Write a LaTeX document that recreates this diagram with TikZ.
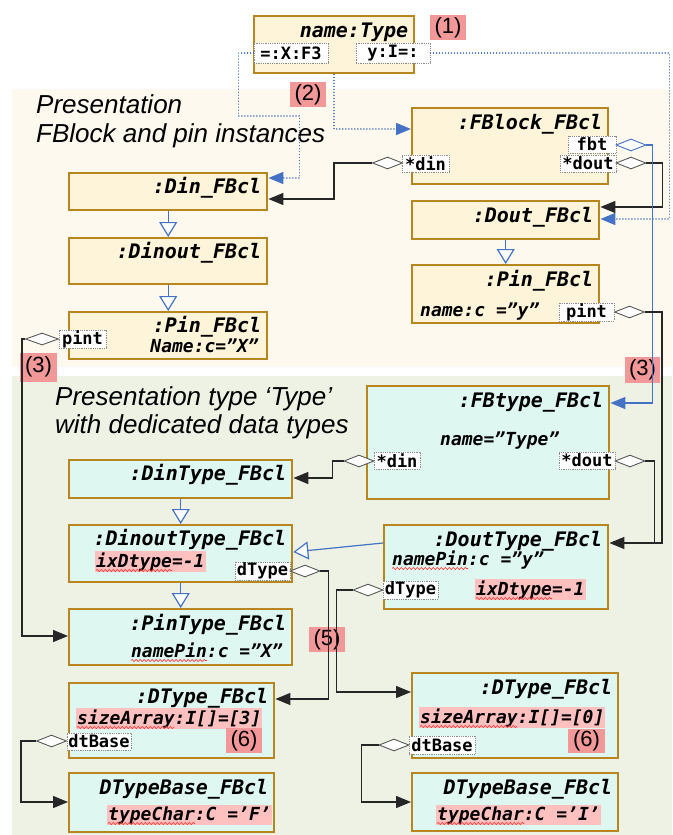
\documentclass[tikz,border=0pt]{standalone}
\usepackage{fontspec}
\setmainfont{Liberation Sans}
\newfontfamily\cmono{DejaVu Sans Mono}[BoldFont={DejaVu Sans Mono Bold},ItalicFont={DejaVu Sans Mono Oblique},BoldItalicFont={DejaVu Sans Mono Bold Oblique}]
\usetikzlibrary{arrows.meta,shapes.geometric,decorations.pathmorphing,calc}
\definecolor{bgtop}{RGB}{253,249,238}
\definecolor{bgbot}{RGB}{238,242,229}
\definecolor{boxtop}{RGB}{254,244,218}
\definecolor{boxbot}{RGB}{222,248,241}
\definecolor{boxedge}{RGB}{184,134,30}
\definecolor{hl}{RGB}{255,192,192}
\definecolor{numred}{RGB}{243,152,152}
\definecolor{umlblue}{RGB}{68,114,196}
\definecolor{pingray}{RGB}{140,140,140}
\tikzset{
 clsbox/.style={draw=boxedge, line width=2.4pt, rectangle, inner sep=0pt, anchor=north west},
 topbox/.style={clsbox, fill=boxtop},
 botbox/.style={clsbox, fill=boxbot},
 clstitle/.style={anchor=base east, inner sep=0pt, font=\cmono\bfseries\itshape\fontsize{20}{24}\selectfont},
 attrtxt/.style={inner sep=0pt, font=\cmono\bfseries\itshape\fontsize{18}{22}\selectfont},
 hlattr/.style={attrtxt, fill=hl, inner xsep=1pt, inner ysep=1.5pt},
 pinlbl/.style={draw=pingray, densely dotted, line width=0.8pt, fill=white, inner sep=0pt, font=\cmono\bfseries\fontsize{17}{20}\selectfont},
 aggdia/.style={diamond, draw=black!65, fill=white, line width=0.9pt, minimum width=30pt, minimum height=12pt, inner sep=0pt},
 numlbl/.style={fill=numred, inner sep=0pt, font=\fontsize{22}{24}\selectfont},
 secttitle/.style={anchor=base west, inner sep=0pt, font=\itshape\fontsize{26}{30}\selectfont},
 connarrow/.style={draw=black!85, line width=1.4pt, -{Triangle[length=15pt,width=12pt]}},
 joinline/.style={draw=black!85, line width=1.4pt},
 bconn/.style={draw=umlblue, line width=1.4pt, -{Triangle[length=15pt,width=12pt]}},
 dconn/.style={draw=umlblue, line width=1.5pt, line cap=round, dash pattern=on 0.01pt off 3pt, -{Triangle[length=15pt,width=12pt]}},
 genarrow/.style={draw=umlblue, line width=1.2pt, -{Triangle[open, length=15pt, width=18pt, fill=white]}},
 squig/.style={draw=red!80, line width=0.6pt, decorate, decoration={snake, amplitude=1.1pt, segment length=4pt}},
}
\begin{document}
\begin{tikzpicture}[x=1pt,y=-1pt]
\useasboundingbox (0,0) rectangle (672,835);
\fill[white] (0,0) rectangle (672,835);
% backgrounds
\fill[bgtop] (12,89) rectangle (672,367);
\fill[bgbot] (12,376) rectangle (672,835);
% section titles
\node[secttitle] (s1a) at (36,113) {Presentation};
\node[secttitle] (s1b) at (36,142) {FBlock and pin instances};
\node[secttitle] (s2a) at (55,405) {Presentation type ‘Type’};
\node[secttitle] (s2b) at (55,433) {with dedicated data types};
% number labels under lines
\node[numlbl, minimum width=36pt, minimum height=25pt] (n1) at (448,27.5) {(1)};
\node[numlbl, minimum width=36pt, minimum height=25pt] (n2) at (308,94.5) {(2)};
\node[numlbl, minimum width=37pt, minimum height=29pt] (n3a) at (38.5,367) {(3)};
\node[numlbl, minimum width=35pt, minimum height=26pt] (n3b) at (642.5,370) {(3)};
\node[numlbl, minimum width=36pt, minimum height=25pt] (n5) at (327,639.5) {(5)};
% boxes
\node[topbox, minimum width=160pt, minimum height=57pt] (nt) at (253,15) {};
\node[topbox, minimum width=196pt, minimum height=76pt] (fb) at (411,107) {};
\node[topbox, minimum width=198pt, minimum height=37pt] (din) at (68,172) {};
\node[topbox, minimum width=198pt, minimum height=46pt] (dinout) at (68,237) {};
\node[topbox, minimum width=198pt, minimum height=47pt] (pinL) at (68,311) {};
\node[topbox, minimum width=187pt, minimum height=38pt] (dout) at (411,200) {};
\node[topbox, minimum width=187pt, minimum height=58pt] (pinR) at (411,264) {};
\node[botbox, minimum width=242pt, minimum height=113pt] (fbt) at (366,385) {};
\node[botbox, minimum width=223pt, minimum height=38pt] (dint) at (68,459) {};
\node[botbox, minimum width=223pt, minimum height=57pt] (dinoutt) at (68,524) {};
\node[botbox, minimum width=223pt, minimum height=56pt] (pint) at (68,608) {};
\node[botbox, minimum width=224pt, minimum height=84pt] (doutt) at (383,524) {};
\node[botbox, minimum width=205pt, minimum height=75pt] (dtL) at (68,682) {};
\node[botbox, minimum width=205pt, minimum height=59pt] (dtbL) at (68,772) {};
\node[botbox, minimum width=206pt, minimum height=85pt] (dtR) at (411,672) {};
\node[botbox, minimum width=206pt, minimum height=58pt] (dtbR) at (411,772) {};
% attributes
\node[attrtxt, anchor=base east] (aPinL) at (259,352) {Name:c=”X”};
\node[attrtxt, anchor=base west] (aPinR) at (420,316) {name:c =”y”};
\node[attrtxt, anchor=base west] (aFbt) at (440,445) {name=”Type”};
\node[hlattr, anchor=base west] (aDinoutt) at (95,567) {ixDtype=-1};
\node[attrtxt, anchor=base east] (aPint) at (283,657) {namePin:c =”X”};
\node[attrtxt, anchor=base west] (aDoutt1) at (392,565) {namePin:c =”y”};
\node[hlattr, anchor=base west] (aDoutt2) at (475,595) {ixDtype=-1};
\node[hlattr, anchor=base west] (aDtL) at (76,724) {sizeArray:I[]=[3]};
\node[hlattr, anchor=base west] (aDtR) at (419,723) {sizeArray:I[]=[0]};
\node[hlattr, anchor=base west] (aDtbL) at (107,820) {typeChar:C =’F’};
\node[hlattr, anchor=base west] (aDtbR) at (436,820) {typeChar:C =’I’};
% titles
\node[clstitle] (tnt) at ($(nt.north east)+(-7,22)$) {name:Type};
\node[clstitle] (tfb) at ($(fb.north east)+(-7,22)$) {:FBlock\_FBcl};
\node[clstitle] (tdin) at ($(din.north east)+(-7,21)$) {:Din\_FBcl};
\node[clstitle] (tdinout) at ($(dinout.north east)+(-7,21)$) {:Dinout\_FBcl};
\node[clstitle] (tpinL) at ($(pinL.north east)+(-7,21)$) {:Pin\_FBcl};
\node[clstitle] (tdout) at ($(dout.north east)+(-7,22)$) {:Dout\_FBcl};
\node[clstitle] (tpinR) at ($(pinR.north east)+(-7,22)$) {:Pin\_FBcl};
\node[clstitle] (tfbt) at ($(fbt.north east)+(-7,22)$) {:FBtype\_FBcl};
\node[clstitle] (tdint) at ($(dint.north east)+(-7,21)$) {:DinType\_FBcl};
\node[clstitle] (tdinoutt) at ($(dinoutt.north east)+(-7,21)$) {:DinoutType\_FBcl};
\node[clstitle] (tpint) at ($(pint.north east)+(-7,22)$) {:PinType\_FBcl};
\node[clstitle] (tdoutt) at ($(doutt.north east)+(-7,22)$) {:DoutType\_FBcl};
\node[clstitle] (tdtL) at ($(dtL.north east)+(-7,21)$) {:DType\_FBcl};
\node[clstitle] (tdtbL) at ($(dtbL.north east)+(-7,22)$) {DTypeBase\_FBcl};
\node[clstitle] (tdtR) at ($(dtR.north east)+(-7,22)$) {:DType\_FBcl};
\node[clstitle] (tdtbR) at ($(dtbR.north east)+(-7,22)$) {DTypeBase\_FBcl};
% squiggles
\draw[squig] ($(aDinoutt.base west)+(1,3.5)$) -- ++(76,0);
\draw[squig] ($(aPint.base west)+(0,3.5)$) -- ++(76,0);
\draw[squig] ($(aDoutt1.base west)+(0,3.5)$) -- ++(76,0);
\draw[squig] ($(aDoutt2.base west)+(1,3.5)$) -- ++(76,0);
\draw[squig] ($(aDtL.base west)+(1,3.5)$) -- ++(97,0);
\draw[squig] ($(aDtR.base west)+(1,3.5)$) -- ++(97,0);
\draw[squig] ($(aDtbL.base west)+(1,3.5)$) -- ++(87,0);
\draw[squig] ($(aDtbR.base west)+(1,3.5)$) -- ++(87,0);
% (6) labels
\node[numlbl, minimum width=36pt, minimum height=25pt] (n6a) at (244,740.5) {(6)};
\node[numlbl, minimum width=37pt, minimum height=24pt] (n6b) at (586.5,741) {(6)};
% pins
\node[pinlbl, minimum width=74pt, minimum height=20pt] (pX) at (291,53) {=:X:F3};
\node[pinlbl, minimum width=74pt, minimum height=20pt] (pY) at (393,53) {y:I=:};
\node[pinlbl, minimum width=48pt, minimum height=17pt] (pFbt) at (592,144.5) {fbt};
\node[pinlbl, minimum width=56pt, minimum height=17pt] (pFbDout) at (588,163.5) {*dout};
\node[pinlbl, minimum width=47pt, minimum height=17pt] (pFbDin) at (425.5,163.5) {*din};
\node[pinlbl, minimum width=47pt, minimum height=18pt] (pPinL) at (82.5,339) {pint};
\node[pinlbl, minimum width=55pt, minimum height=18pt] (pPinR) at (586.5,312) {pint};
\node[pinlbl, minimum width=46pt, minimum height=17pt] (pFbtDin) at (397,460.5) {*din};
\node[pinlbl, minimum width=56pt, minimum height=17pt] (pFbtDout) at (587,460.5) {*dout};
\node[pinlbl, minimum width=55pt, minimum height=18pt] (pDinoutt) at (262.5,571) {dType};
\node[pinlbl, minimum width=55pt, minimum height=18pt] (pDoutt) at (410.5,590) {dType};
\node[pinlbl, minimum width=64pt, minimum height=17pt] (pDtL) at (99,741.5) {dtBase};
\node[pinlbl, minimum width=66pt, minimum height=18pt] (pDtR) at (442,745) {dtBase};
% diamonds
\node[aggdia, draw=umlblue] (gFbt) at (631,145) {};
\node[aggdia] (gFbDout) at (631,163) {};
\node[aggdia] (gFbDin) at (387.5,163) {};
\node[aggdia, minimum width=33pt] (gPinL) at (42,339) {};
\node[aggdia] (gPinR) at (629.5,312) {};
\node[aggdia] (gFbtDin) at (359,461) {};
\node[aggdia] (gFbtDout) at (630,461) {};
\node[aggdia] (gDinoutt) at (305,571) {};
\node[aggdia] (gDoutt) at (368,590) {};
\node[aggdia] (gDtL) at (51.5,741) {};
\node[aggdia] (gDtR) at (394,745) {};
% dotted links from name:Type
\draw[dconn] (pX.west) -- ++(-15,0) -- ++(0,63) -- ++(61,0) |- ($(din.north east)+(0,6)$);
\draw[dconn] (nt.south) |- ($(fb.north west)+(0,22)$);
\draw[dconn] (pY.east) -- ++(239,0) |- ($(dout.north east)+(0,19)$);
% solid connectors
\draw[connarrow] (gFbDin.west) -- ++(-38,0) |- ($(din.north east)+(0,27)$);
\draw[connarrow] (gFbDout.east) -- ++(16,0) |- ($(dout.north east)+(0,7)$);
\draw[bconn] (gFbt.east) -- ++(6,0) |- ($(fbt.north east)+(0,18)$);
\draw[connarrow] (gPinR.east) -- ++(17,0) |- ($(doutt.north east)+(0,19)$);
\draw[joinline] (gFbtDout.east) -| ($(doutt.north east)+(45,19)$);
\draw[connarrow] (gFbtDin.west) -- ++(-11,0) |- ($(dint.north east)+(0,19)$);
\draw[connarrow] (gPinL.west) -- ++(-3,0) |- ($(pint.north west)+(0,28)$);
\draw[connarrow] (gDinoutt.east) -- ++(8,0) |- ($(dtL.north east)+(0,17)$);
\draw[connarrow] (gDoutt.west) -- ++(-16,0) |- ($(dtR.north west)+(0,20)$);
\draw[connarrow] (gDtL.west) -- ++(-15,0) |- ($(dtbL.north west)+(0,30)$);
\draw[connarrow] (gDtR.west) -- ++(-17,0) |- ($(dtbR.north west)+(0,30)$);
% generalizations
\draw[genarrow] (din.south) -- (dinout.north);
\draw[genarrow] (dinout.south) -- (pinL.north);
\draw[genarrow] (dout.south) -- (pinR.north);
\draw[genarrow] (dint.south) -- (dinoutt.north);
\draw[genarrow] (dinoutt.south) -- (pint.north);
\draw[genarrow] ($(doutt.north west)+(0,19)$) -- ($(dinoutt.north east)+(0,28)$);
\end{tikzpicture}
\end{document}
